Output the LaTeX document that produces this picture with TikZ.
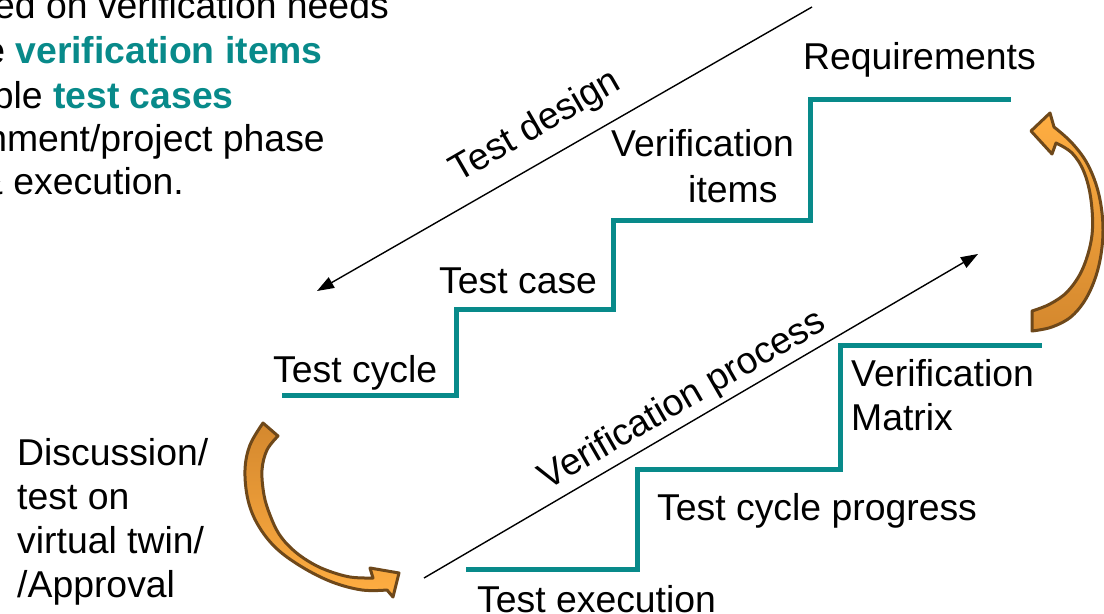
\documentclass[tikz,border=0pt]{standalone}
\usepackage{fontspec}
\setmainfont{Liberation Sans}
\usetikzlibrary{arrows.meta}
\definecolor{stairteal}{RGB}{8,138,138}
\definecolor{arrowbrown}{RGB}{110,72,26}
\definecolor{orangedark}{RGB}{212,136,46}
\definecolor{orangelight}{RGB}{255,174,66}

\begin{document}
\begin{tikzpicture}[x=1bp,y=-1bp,
  lbl/.style={font=\fontsize{37.5}{44}\selectfont, inner sep=0pt, anchor=base west},
  lblr/.style={lbl, anchor=base east},
  stair/.style={draw=stairteal, line width=5bp, line join=miter},
  flow/.style={draw=black, line width=1.4bp, -{Triangle[length=17bp,width=12bp]}},
  slanted/.style={font=\fontsize{37.5}{44}\selectfont, inner sep=0pt, rotate=30},
  curvedarrow/.style={draw=arrowbrown, line width=3bp, line join=round}]

\clip (0,0) rectangle (1104,614);
\fill[white] (0,0) rectangle (1104,614);

% upper staircase: from test cycle up to requirements
\draw[stair] (282,395) -- (456,395) -- (456,309) -- (613,309) -- (613,221)
  -- (810,221) -- (810,100) -- (1011,100);

% lower staircase: from test execution up to the verification matrix
\draw[stair] (466,569) -- (637,569) -- (637,469) -- (840,469) -- (840,345)
  -- (1042,345);

% step labels
\node[lbl] (req) at (803,70) {Requirements};
\node[lbl] (vi1) at (611,157) {Verification};
\node[lbl] (vi2) at (688,203) {items};
\node[lbl] (tcase) at (439,294) {Test case};
\node[lbl] (tcyc) at (273,382) {Test cycle};
\node[lbl] (vm1) at (851,386) {Verification};
\node[lbl] (vm2) at (851,430) {Matrix};
\node[lbl] (tprog) at (657,520) {Test cycle progress};
\node[lbl] (texec) at (477,612) {Test execution};

% side note on the left
\node[lbl] (d1) at (17,465) {Discussion/};
\node[lbl] (d2) at (17,509) {test on};
\node[lbl] (d3) at (17,553) {virtual twin/};
\node[lbl] (d4) at (17,597) {/Approval};

% notes at the top left
\node[lblr] (n1) at (389,19) {ed on verification needs};
\node[lblr] (n2) at (323,64) {e \textcolor{stairteal}{\bfseries verification items}};
\node[lblr] (n3) at (234,109) {ple \textcolor{stairteal}{\bfseries test cases}};
\node[lblr] (n4) at (325,152) {nment/project phase};
\node[lblr] (n5) at (184,195) {\& execution.};

% diagonal flows
\coordinate (tdA) at (812,7);
\coordinate (tdB) at (317,291);
\draw[flow] (tdA) -- (tdB);
\node[slanted] (tdl) at (536,127) {Test design};

\coordinate (vpA) at (424,578);
\coordinate (vpB) at (978,254);
\draw[flow] (vpA) -- (vpB);
\node[slanted] (vpl) at (683,401) {Verification process};

% curved arrow: discussion back down to execution
\draw[curvedarrow, top color=orangedark, bottom color=orangelight]
  (263,423) -- plot[smooth, tension=0.6] coordinates {(263,423) (250,445) (245,470) (248,500) (258,525) (276,548) (302,567) (332,582) (362,590) (387,590)}
  -- (393,597) -- (399,573) -- (370,568) -- (373,578)
  -- plot[smooth, tension=0.6] coordinates {(373,578) (350,577) (326,570) (308,561) (292,549) (279,534) (270,515) (264,495) (262,470) (267,450) (278,436)}
  -- cycle;

% curved arrow: verification matrix back up to requirements
\draw[curvedarrow, top color=orangelight, bottom color=orangedark]
  (1032,311) -- (1032,331)
  -- plot[smooth, tension=0.6] coordinates {(1032,331) (1052,327) (1072,316) (1088,295) (1099,265) (1103,230) (1099,195) (1088,165) (1072,143) (1054,127)}
  -- (1050,113) -- (1031,131) -- (1052,154) -- (1056,143)
  -- plot[smooth, tension=0.6] coordinates {(1056,143) (1072,153) (1084,172) (1091,200) (1092,235) (1083,268) (1068,291) (1050,304) (1032,311)}
  -- cycle;
\end{tikzpicture}
\end{document}
